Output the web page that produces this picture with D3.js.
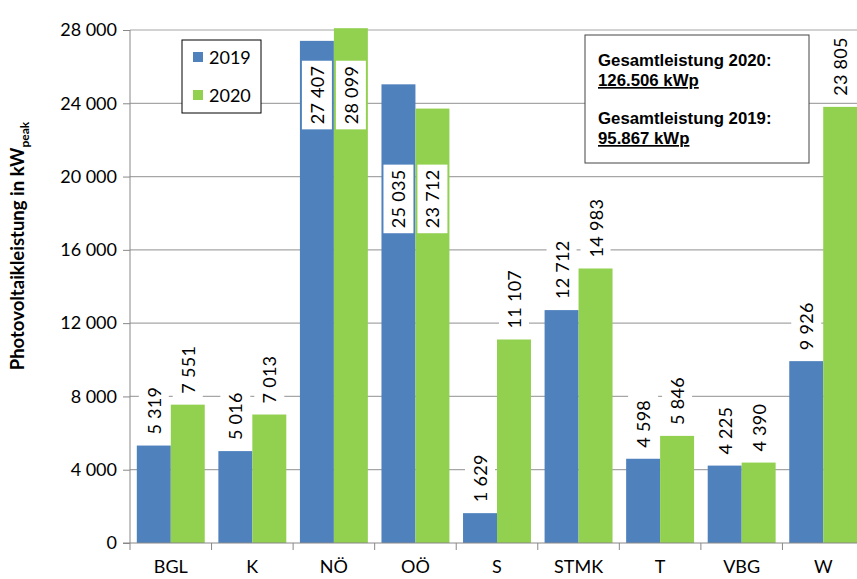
<!DOCTYPE html>
<html><head><meta charset="utf-8">
<script src="https://cdn.jsdelivr.net/npm/d3@7"></script>
<style>html,body{margin:0;padding:0;background:#fff;overflow:hidden}</style>
</head><body>
<svg id="c" width="857" height="579"></svg>
<script>
const categories = ["BGL","K","NÖ","OÖ","S","STMK","T","VBG","W"];
const series = ["2019","2020"];
const values2019 = [5319,5016,27407,25035,1629,12712,4598,4225,9926];
const values2020 = [7551,7013,28099,23712,11107,14983,5846,4390,23805];
const yTicks = [0,4000,8000,12000,16000,20000,24000,28000];
// labels drawn inside the bar for these groups, centred at the given value
const insideLabelAt = {"NÖ": 24450, "OÖ": 18780};
const boxLines = ["Gesamtleistung 2020:","126.506 kWp","Gesamtleistung 2019:","95.867 kWp"];
const colors = {"2019":"#4f81bd","2020":"#92d050"};

const svg = d3.select("#c");
const L = 130, R = 864, T = 30, B = 543;
const pad = 0.167;
const x = d3.scaleBand().domain(categories).range([L,R]).paddingInner(pad).paddingOuter(pad/2);
const xs = d3.scaleBand().domain(series).range([0,x.bandwidth()]);
const y = d3.scaleLinear().domain([0,28000]).range([B,T]);
const fmt = v => d3.format(",")(v).replace(/,/g," ");
const font = "Lato, 'Open Sans', sans-serif";

// gridlines
svg.append("g").selectAll("line").data(yTicks.filter(d=>d>0)).join("line")
  .attr("x1",L).attr("x2",857).attr("y1",d=>y(d)).attr("y2",d=>y(d))
  .attr("stroke","#a6a6a6").attr("stroke-width",1.2);

// bars
const data = categories.map((c,i)=>({c, vals:[{s:"2019",v:values2019[i]},{s:"2020",v:values2020[i]}]}));
const g = svg.append("g");
data.forEach(d=>{
  d.vals.forEach(e=>{
    g.append("rect").attr("x",x(d.c)+xs(e.s)).attr("width",xs.bandwidth())
      .attr("y",y(e.v)).attr("height",B-y(e.v)).attr("fill",colors[e.s]);
  });
});

// axes
const yAxis = d3.axisLeft(y).tickValues(yTicks).tickFormat(fmt).tickSize(7).tickPadding(6);
const ya = svg.append("g").attr("transform",`translate(${L},0)`).call(yAxis);
ya.selectAll("text").attr("font-family",font).attr("font-size",18).attr("fill","#000");
ya.selectAll("line").attr("stroke","#888");
ya.select(".domain").attr("stroke","#888").attr("d",`M-7,${B}H0V${T}`);

const xa = svg.append("g");
xa.append("line").attr("x1",L).attr("x2",857).attr("y1",B).attr("y2",B).attr("stroke","#888");
const step = x.step();
categories.forEach((c,i)=>{
  const bx = x(c) - step*pad/2;
  xa.append("line").attr("x1",bx).attr("x2",bx).attr("y1",B).attr("y2",B+7).attr("stroke","#888");
  xa.append("text").attr("x",x(c)+x.bandwidth()/2).attr("y",B+30).attr("text-anchor","middle")
    .attr("font-family",font).attr("font-size",18).text(c);
});

// value labels
const lg = svg.append("g");
data.forEach(d=>{
  d.vals.forEach(e=>{
    const cx = x(d.c)+xs(e.s)+xs.bandwidth()/2;
    const t = lg.append("text").attr("font-family",font).attr("font-size",18)
      .attr("letter-spacing",0.3)
      .attr("dominant-baseline","central").text(fmt(e.v));
    const w = t.node().getComputedTextLength();
    let cy;
    if (insideLabelAt[d.c] !== undefined) cy = y(insideLabelAt[d.c]);
    else cy = y(e.v) - 11 - w/2;
    t.attr("text-anchor","middle").attr("transform",`translate(${cx},${cy}) rotate(-90)`);
    lg.append("rect").attr("x",cx-15).attr("y",cy-w/2-5).attr("width",30).attr("height",w+10).attr("fill","#fff").lower();
  });
});
lg.selectAll("text").raise();

// legend
const leg = svg.append("g");
leg.append("rect").attr("x",182).attr("y",40).attr("width",79).attr("height",73).attr("fill","#fff").attr("stroke","#000").attr("stroke-width",1);
series.forEach((s,i)=>{
  leg.append("rect").attr("x",193).attr("y",52+i*38).attr("width",10).attr("height",10).attr("fill",colors[s]);
  leg.append("text").attr("x",209).attr("y",64+i*38).attr("font-family",font).attr("font-size",18).text(s);
});

// info box
const ib = svg.append("g");
ib.append("rect").attr("x",585).attr("y",35).attr("width",224).attr("height",128).attr("fill","#fff").attr("stroke","#444").attr("stroke-width",1);
const bys = [66,86,124,144];
boxLines.forEach((t,i)=>{
  ib.append("text").attr("x",598).attr("y",bys[i]).attr("font-family","'Liberation Sans', Arial, sans-serif")
    .attr("font-weight","bold").attr("font-size",16.8)
    .attr("text-decoration", i%2 ? "underline" : null).text(t);
});

// y title
const yt = svg.append("text").attr("transform","translate(24,246) rotate(-90)").attr("text-anchor","middle")
  .attr("font-family",font).attr("font-weight","bold").attr("font-size",18.5);
yt.append("tspan").text("Photovoltaikleistung in kW");
yt.append("tspan").attr("font-size",12).attr("dy",5).text("peak");
</script>
</body></html>
